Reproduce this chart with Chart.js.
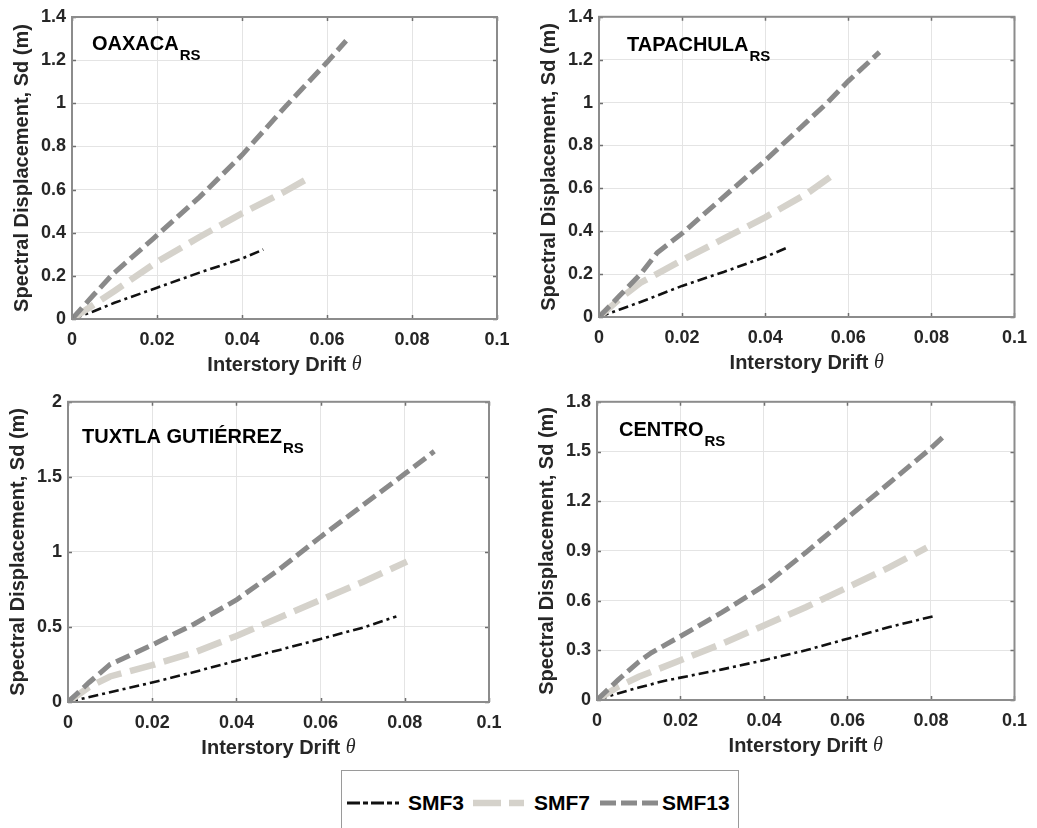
<!DOCTYPE html>
<html>
<head>
<meta charset="utf-8">
<script src="https://cdn.jsdelivr.net/npm/chart.js@4.4.1/dist/chart.umd.min.js"></script>
<style>
  html, body { margin: 0; padding: 0; background: #fff; }
  body { position: relative; width: 1037px; height: 828px; overflow: hidden; font-family: "Liberation Sans", Arial, sans-serif; }
  canvas { position: absolute; }
  #legend { position: absolute; left: 341px; top: 770px; width: 398px; height: 90px; box-sizing: border-box;
            border: 1.5px solid #9a9a9a; background: #fff; }
  #legend svg { position: absolute; left: 0; top: 0; }
  #legend span { position: absolute; top: 20px; font: bold 21px "Liberation Sans", Arial, sans-serif; color: #000; line-height: 24px; }
</style>
</head>
<body>
<canvas id="c1"></canvas>
<canvas id="c2"></canvas>
<canvas id="c3"></canvas>
<canvas id="c4"></canvas>
<div id="legend">
  <svg width="396" height="70">
    <line x1="5" y1="32" x2="57" y2="32" stroke="#111" stroke-width="3" stroke-dasharray="13 3 5 3"/>
    <line x1="131" y1="32" x2="182" y2="32" stroke="#d5d2cb" stroke-width="6.5" stroke-dasharray="28 8"/>
    <line x1="258" y1="32" x2="317" y2="32" stroke="#8a8a8a" stroke-width="5" stroke-dasharray="16 5"/>
  </svg>
  <span style="left:66px">SMF3</span>
  <span style="left:192px">SMF7</span>
  <span style="left:320px">SMF13</span>
</div>
<script>
// Axis ticks
const driftTicks = [0, 0.02, 0.04, 0.06, 0.08, 0.1];
const driftTickLabels = ['0', '0.02', '0.04', '0.06', '0.08', '0.1'];
const sdTicks14 = [0, 0.2, 0.4, 0.6, 0.8, 1, 1.2, 1.4];
const sdTickLabels14 = ['0', '0.2', '0.4', '0.6', '0.8', '1', '1.2', '1.4'];
const sdTicks20 = [0, 0.5, 1, 1.5, 2];
const sdTickLabels20 = ['0', '0.5', '1', '1.5', '2'];
const sdTicks18 = [0, 0.3, 0.6, 0.9, 1.2, 1.5, 1.8];
const sdTickLabels18 = ['0', '0.3', '0.6', '0.9', '1.2', '1.5', '1.8'];

const seriesNames = ['SMF3', 'SMF7', 'SMF13'];

// OAXACA
const oaxacaDrift3 = [0, 0.005, 0.01, 0.02, 0.03, 0.04, 0.045];
const oaxacaSd3    = [0, 0.035, 0.075, 0.145, 0.215, 0.28, 0.322];
const oaxacaDrift7 = [0, 0.005, 0.01, 0.02, 0.03, 0.04, 0.05, 0.0558];
const oaxacaSd7    = [0, 0.065, 0.13, 0.265, 0.38, 0.49, 0.59, 0.655];
const oaxacaDrift13 = [0, 0.005, 0.0097, 0.0192, 0.03, 0.04, 0.05, 0.06, 0.0645];
const oaxacaSd13    = [0, 0.11, 0.21, 0.374, 0.565, 0.76, 0.98, 1.19, 1.29];

// TAPACHULA
const tapachulaDrift3 = [0, 0.005, 0.01, 0.02, 0.03, 0.04, 0.0455];
const tapachulaSd3    = [0, 0.035, 0.07, 0.145, 0.21, 0.28, 0.325];
const tapachulaDrift7 = [0, 0.005, 0.01, 0.02, 0.03, 0.04, 0.05, 0.0558];
const tapachulaSd7    = [0, 0.085, 0.16, 0.265, 0.365, 0.465, 0.575, 0.655];
const tapachulaDrift13 = [0, 0.005, 0.01, 0.014, 0.02, 0.03, 0.04, 0.05, 0.055, 0.06, 0.0675];
const tapachulaSd13    = [0, 0.1, 0.2, 0.3, 0.39, 0.56, 0.73, 0.91, 1.0, 1.1, 1.235];

// TUXTLA GUTIÉRREZ
const tuxtlaDrift3 = [0, 0.01, 0.02, 0.03, 0.04, 0.05, 0.06, 0.07, 0.078];
const tuxtlaSd3    = [0, 0.065, 0.13, 0.2, 0.275, 0.345, 0.42, 0.495, 0.57];
const tuxtlaDrift7 = [0, 0.005, 0.01, 0.02, 0.03, 0.04, 0.05, 0.06, 0.07, 0.0805];
const tuxtlaSd7    = [0, 0.1, 0.17, 0.245, 0.33, 0.44, 0.56, 0.68, 0.8, 0.935];
const tuxtlaDrift13 = [0, 0.005, 0.01, 0.02, 0.03, 0.04, 0.05, 0.06, 0.07, 0.08, 0.087];
const tuxtlaSd13    = [0, 0.13, 0.25, 0.38, 0.52, 0.68, 0.88, 1.1, 1.31, 1.52, 1.67];

// CENTRO
const centroDrift3 = [0, 0.005, 0.01, 0.016, 0.02, 0.03, 0.04, 0.05, 0.06, 0.07, 0.0805];
const centroSd3    = [0, 0.04, 0.075, 0.115, 0.135, 0.185, 0.24, 0.3, 0.37, 0.44, 0.505];
const centroDrift7 = [0, 0.005, 0.01, 0.02, 0.03, 0.04, 0.05, 0.06, 0.07, 0.079];
const centroSd7    = [0, 0.08, 0.14, 0.24, 0.34, 0.45, 0.56, 0.68, 0.8, 0.92];
const centroDrift13 = [0, 0.005, 0.01, 0.013, 0.02, 0.03, 0.04, 0.05, 0.06, 0.07, 0.08, 0.083];
const centroSd13    = [0, 0.12, 0.23, 0.285, 0.385, 0.53, 0.69, 0.89, 1.1, 1.31, 1.52, 1.59];

const lineStyles = {
  SMF3:  { color: '#111111', width: 2.6, dash: [10, 4, 3, 4], order: 2 },
  SMF7:  { color: '#d5d2cb', width: 6.5, dash: [26, 9], order: 1 },
  SMF13: { color: '#8a8a8a', width: 5,   dash: [15, 6], order: 0 }
};

const FONT = '"Liberation Sans", Arial, sans-serif';
const TEXT = '#262626';

function pts(xs, ys) { return xs.map((x, i) => ({ x: x, y: ys[i] })); }

const panels = [
  { canvas: 'c1', left: 0,   top: 0,   w: 520, h: 385, area: { l: 72, r: 497, t: 17, b: 319 },
    name: 'OAXACA', dx: 20, dy: 33, yMax: 1.4, yTicks: sdTicks14, yLabels: sdTickLabels14,
    series: [[oaxacaDrift3, oaxacaSd3], [oaxacaDrift7, oaxacaSd7], [oaxacaDrift13, oaxacaSd13]] },
  { canvas: 'c2', left: 520, top: 0,   w: 517, h: 385, area: { l: 79, r: 502, t: 14, b: 317 },
    name: 'TAPACHULA', dx: 28, dy: 34, yMax: 1.4, yTicks: sdTicks14, yLabels: sdTickLabels14,
    series: [[tapachulaDrift3, tapachulaSd3], [tapachulaDrift7, tapachulaSd7], [tapachulaDrift13, tapachulaSd13]] },
  { canvas: 'c3', left: 0,   top: 385, w: 520, h: 380, area: { l: 68, r: 489, t: 13, b: 317 },
    name: 'TUXTLA GUTIÉRREZ', dx: 14, dy: 41, yMax: 2, yTicks: sdTicks20, yLabels: sdTickLabels20,
    series: [[tuxtlaDrift3, tuxtlaSd3], [tuxtlaDrift7, tuxtlaSd7], [tuxtlaDrift13, tuxtlaSd13]] },
  { canvas: 'c4', left: 520, top: 385, w: 517, h: 380, area: { l: 77, r: 501, t: 13, b: 315 },
    name: 'CENTRO', dx: 22, dy: 34, yMax: 1.8, yTicks: sdTicks18, yLabels: sdTickLabels18,
    series: [[centroDrift3, centroSd3], [centroDrift7, centroSd7], [centroDrift13, centroSd13]] }
];

// Box, inward ticks, axis titles and the station label inside the plot
const framePlugin = {
  id: 'frame',
  afterDraw(chart, args, opts) {
    const { ctx, chartArea: a, scales } = chart;
    const xs = scales.x, ys = scales.y;
    ctx.save();
    ctx.strokeStyle = '#6f6f6f';
    ctx.lineWidth = 1.5;
    ctx.beginPath();
    driftTicks.forEach(v => {
      const px = Math.round(xs.getPixelForValue(v)) + 0.5;
      ctx.moveTo(px, a.bottom); ctx.lineTo(px, a.bottom - 4);
      ctx.moveTo(px, a.top); ctx.lineTo(px, a.top + 4);
    });
    opts.yTicks.forEach(v => {
      const py = Math.round(ys.getPixelForValue(v)) + 0.5;
      ctx.moveTo(a.left, py); ctx.lineTo(a.left + 4, py);
      ctx.moveTo(a.right, py); ctx.lineTo(a.right - 4, py);
    });
    ctx.stroke();

    ctx.strokeStyle = '#8c8c8c';
    ctx.lineWidth = 2;
    ctx.strokeRect(a.left, a.top, a.right - a.left, a.bottom - a.top);

    // station label with subscript
    ctx.fillStyle = '#000';
    ctx.textBaseline = 'alphabetic';
    ctx.textAlign = 'left';
    ctx.font = 'bold 20px ' + FONT;
    const lx = a.left + opts.dx, ly = a.top + opts.dy;
    ctx.fillText(opts.name, lx, ly);
    const nw = ctx.measureText(opts.name).width;
    ctx.font = 'bold 15px ' + FONT;
    ctx.fillText('RS', lx + nw + 1, ly + 10);

    // x-axis title
    ctx.fillStyle = TEXT;
    ctx.textBaseline = 'middle';
    const part1 = 'Interstory Drift ';
    ctx.font = 'bold 20px ' + FONT;
    const w1 = ctx.measureText(part1).width;
    ctx.font = 'italic 20px "Liberation Serif", "Times New Roman", serif';
    const w2 = ctx.measureText('θ').width;
    const cx = (a.left + a.right) / 2;
    const tx = cx - (w1 + w2) / 2, ty = a.bottom + 46;
    ctx.font = 'bold 20px ' + FONT;
    ctx.fillText(part1, tx, ty);
    ctx.font = 'italic 20px "Liberation Serif", "Times New Roman", serif';
    ctx.fillText('θ', tx + w1, ty);

    // y-axis title
    ctx.translate(a.left - 50, (a.top + a.bottom) / 2);
    ctx.rotate(-Math.PI / 2);
    ctx.textAlign = 'center';
    ctx.font = 'bold 20px ' + FONT;
    ctx.fillText('Spectral Displacement, Sd (m)', 0, 0);
    ctx.restore();
  }
};

panels.forEach(p => {
  const cv = document.getElementById(p.canvas);
  cv.width = p.w; cv.height = p.h;
  cv.style.left = p.left + 'px'; cv.style.top = p.top + 'px';
  cv.style.width = p.w + 'px'; cv.style.height = p.h + 'px';

  const datasets = seriesNames.map((name, i) => {
    const s = lineStyles[name];
    return {
      label: name,
      data: pts(p.series[i][0], p.series[i][1]),
      showLine: true,
      borderColor: s.color,
      backgroundColor: s.color,
      borderWidth: s.width,
      borderDash: s.dash,
      borderCapStyle: 'butt',
      borderJoinStyle: 'miter',
      pointRadius: 0,
      tension: 0,
      fill: false,
      order: s.order
    };
  });

  new Chart(cv, {
    type: 'scatter',
    data: { datasets },
    options: {
      responsive: false,
      animation: false,
      events: [],
      layout: { padding: { left: 0, top: p.area.t, right: p.w - p.area.r, bottom: 0 } },
      plugins: {
        legend: { display: false },
        tooltip: { enabled: false },
        frame: { name: p.name, dx: p.dx, dy: p.dy, yTicks: p.yTicks }
      },
      scales: {
        x: {
          type: 'linear', min: 0, max: 0.1,
          afterFit: s => { s.height = p.h - p.area.b; },
          afterBuildTicks: s => { s.ticks = driftTicks.map(v => ({ value: v })); },
          ticks: {
            padding: 10, maxRotation: 0, autoSkip: false,
            color: TEXT, font: { family: FONT, size: 18, weight: 'bold' },
            callback: (v, i) => driftTickLabels[i]
          },
          grid: { color: '#e4e4e4', lineWidth: 1, drawTicks: false },
          border: { display: false }
        },
        y: {
          type: 'linear', min: 0, max: p.yMax,
          afterFit: s => { s.width = p.area.l; },
          afterBuildTicks: s => { s.ticks = p.yTicks.map(v => ({ value: v })); },
          ticks: {
            padding: 6, autoSkip: false,
            color: TEXT, font: { family: FONT, size: 18, weight: 'bold' },
            callback: (v, i) => p.yLabels[i]
          },
          grid: { color: '#e4e4e4', lineWidth: 1, drawTicks: false },
          border: { display: false }
        }
      }
    },
    plugins: [framePlugin]
  });
});
</script>
</body>
</html>
